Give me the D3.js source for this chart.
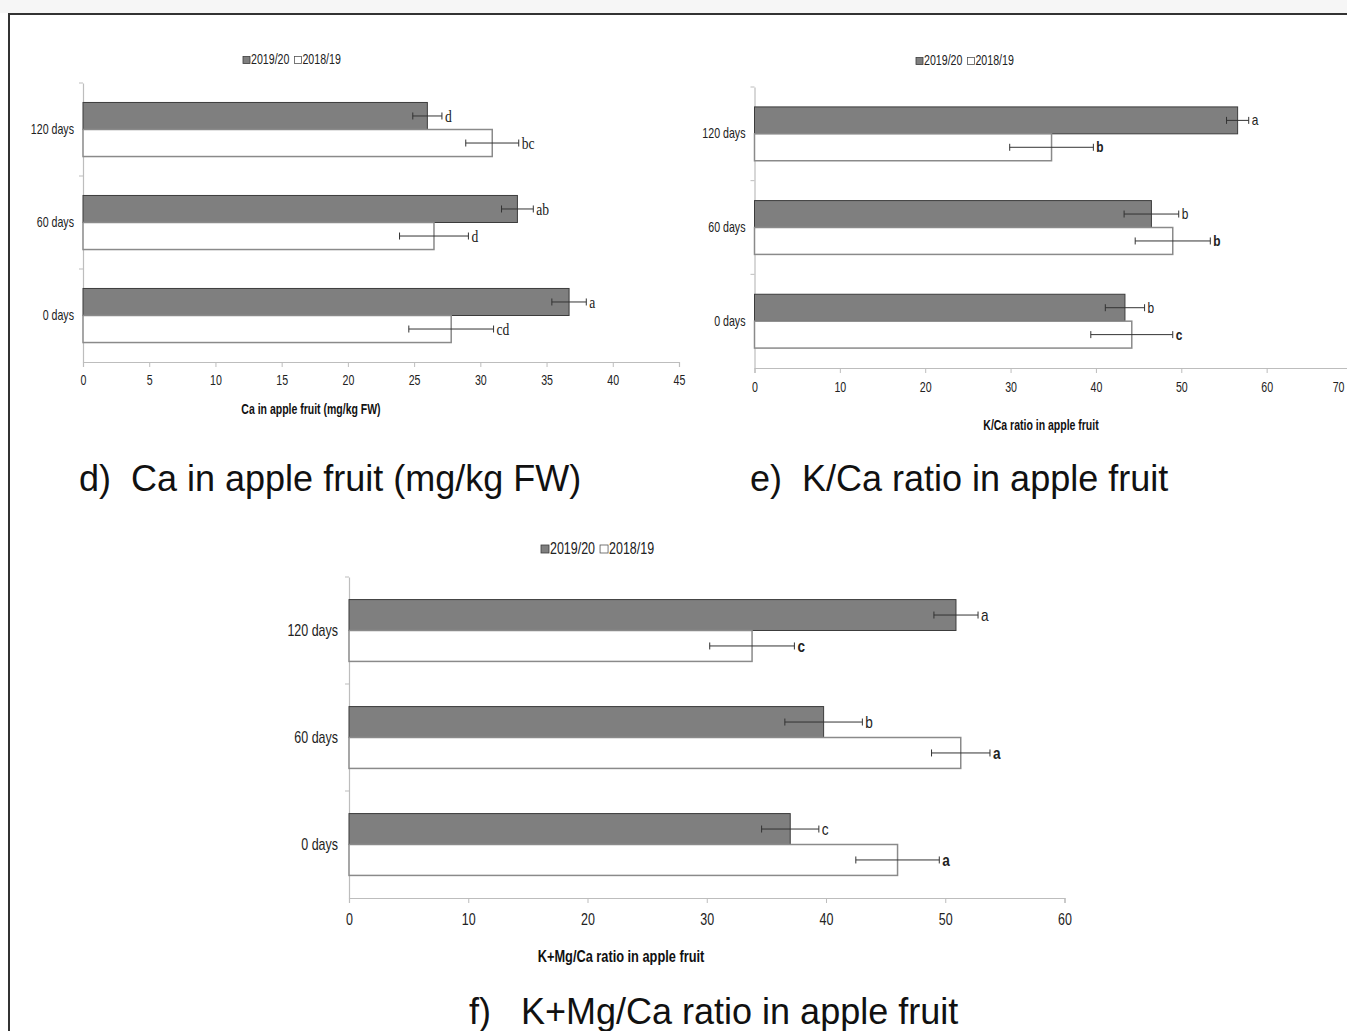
<!DOCTYPE html>
<html>
<head>
<meta charset="utf-8">
<script src="https://cdn.jsdelivr.net/npm/d3@7"></script>
<style>
  html, body { margin: 0; padding: 0; background: #fff; }
  svg { display: block; }
</style>
</head>
<body>
<svg id="chart" width="1347" height="1031"></svg>
<script>
// ---------- DATA ----------
const categories = ["120 days", "60 days", "0 days"];
const seriesLabels = ["2019/20", "2018/19"];

// d) Ca in apple fruit (mg/kg FW)
const caMean2019 = [26.0, 32.8, 36.7];
const caErr2019 = [1.1, 1.2, 1.3];
const caMean2018 = [30.9, 26.5, 27.8];
const caErr2018 = [2.0, 2.6, 3.2];
const caLetters2019 = ["d", "ab", "a"];
const caLetters2018 = ["bc", "d", "cd"];
const caTicks = [0, 5, 10, 15, 20, 25, 30, 35, 40, 45];

// e) K/Ca ratio in apple fruit
const kcaMean2019 = [56.6, 46.5, 43.4];
const kcaErr2019 = [1.3, 3.2, 2.3];
const kcaMean2018 = [34.8, 49.0, 44.2];
const kcaErr2018 = [4.9, 4.4, 4.8];
const kcaLetters2019 = ["a", "b", "b"];
const kcaLetters2018 = ["b", "b", "c"];
const kcaTicks = [0, 10, 20, 30, 40, 50, 60, 70];

// f) K+Mg/Ca ratio in apple fruit
const kmgMean2019 = [50.9, 39.8, 37.0];
const kmgErr2019 = [1.85, 3.25, 2.4];
const kmgMean2018 = [33.8, 51.3, 46.0];
const kmgErr2018 = [3.55, 2.45, 3.5];
const kmgLetters2019 = ["a", "b", "c"];
const kmgLetters2018 = ["c", "a", "a"];
const kmgTicks = [0, 10, 20, 30, 40, 50, 60];

const captions = ["d)  Ca in apple fruit (mg/kg FW)", "e)  K/Ca ratio in apple fruit", "f)   K+Mg/Ca ratio in apple fruit"];
const axisTitles = ["Ca in apple fruit (mg/kg FW)", "K/Ca ratio in apple fruit", "K+Mg/Ca ratio in apple fruit"];

// ---------- DRAW ----------
const svg = d3.select("#chart");
const SANS = '"Liberation Sans", Arial, sans-serif';
const SERIF = '"Liberation Serif", "Times New Roman", serif';

// horizontally condense text about its own x anchor (mimics a narrow face)
function squeeze(sel, s) {
  sel.each(function () {
    const t = d3.select(this);
    const x0 = +t.attr("x") || 0;
    t.attr("transform", `translate(${x0 * (1 - s)},0) scale(${s},1)`);
  });
}

// frame
svg.append("rect").attr("x", 0).attr("y", 0).attr("width", 1347).attr("height", 13).attr("fill", "#f6f6f6");
svg.append("line").attr("x1", 8).attr("x2", 1347).attr("y1", 14).attr("y2", 14).attr("stroke", "#333").attr("stroke-width", 2);
svg.append("line").attr("x1", 9).attr("x2", 9).attr("y1", 14).attr("y2", 1031).attr("stroke", "#333").attr("stroke-width", 2);

function rows(m19, e19, l19, m18, e18, l18) {
  return categories.map((c, i) => ({
    cat: c,
    series: [
      { key: seriesLabels[0], v: m19[i], e: e19[i], l: l19[i] },
      { key: seriesLabels[1], v: m18[i], e: e18[i], l: l18[i] }
    ]
  }));
}

function panel(cfg) {
  const g = svg.append("g");
  const x = d3.scaleLinear().domain([0, cfg.max]).range([cfg.left, cfg.right]);
  const y = d3.scaleBand().domain(categories).range([cfg.top, cfg.bottom]).padding(0);
  const inner = d3.scaleBand().domain(seriesLabels).range([0, y.bandwidth()]).paddingInner(0).paddingOuter(cfg.pad);

  // x axis
  const xa = g.append("g").attr("transform", `translate(0,${cfg.bottom})`)
    .call(d3.axisBottom(x).tickValues(cfg.ticks).tickSize(5).tickPadding(cfg.tickPad).tickFormat(d3.format("d")));
  xa.select(".domain").attr("stroke", "#bdbdbd").attr("stroke-width", 1.2);
  xa.selectAll(".tick line").attr("stroke", "#bdbdbd");
  const xt = xa.selectAll("text").attr("font-family", SANS).attr("font-size", cfg.fs).attr("fill", "#222");
  if (cfg.lastEnd) {
    // last tick sits on the picture's right edge: keep its label inside
    xt.filter(d => d === cfg.max).attr("text-anchor", "end").attr("x", -8);
  }
  squeeze(xt, cfg.sq);

  // y axis (labels centred on bands, ticks at band boundaries)
  const ya = g.append("g").attr("transform", `translate(${cfg.left},0)`)
    .call(d3.axisLeft(y).tickSize(0).tickPadding(cfg.ylabPad));
  ya.select(".domain").attr("stroke", "#bdbdbd").attr("stroke-width", 1.2);
  squeeze(ya.selectAll("text").attr("font-family", SANS).attr("font-size", cfg.fs).attr("fill", "#222"), cfg.sq);
  g.selectAll(".bt").data(categories).join("line")
    .attr("x1", cfg.left - 4).attr("x2", cfg.left)
    .attr("y1", d => y(d)).attr("y2", d => y(d))
    .attr("stroke", "#bdbdbd");

  // bars
  const grp = g.selectAll(".cat").data(cfg.data).join("g")
    .attr("transform", d => `translate(0,${y(d.cat)})`);
  grp.selectAll("rect").data(d => d.series).join("rect")
    .attr("x", x(0))
    .attr("y", d => inner(d.key))
    .attr("width", d => x(d.v) - x(0))
    .attr("height", inner.bandwidth())
    .attr("fill", (d, i) => i === 0 ? "#7f7f7f" : "#ffffff")
    .attr("stroke", (d, i) => i === 0 ? "#3c3c3c" : "#8a8a8a")
    .attr("stroke-width", (d, i) => i === 0 ? 1 : 1.5);

  // error bars + letters
  const eb = grp.selectAll(".eb").data(d => d.series).join("g")
    .attr("transform", d => `translate(0,${inner(d.key) + inner.bandwidth() / 2})`);
  eb.append("line").attr("x1", d => x(d.v - d.e)).attr("x2", d => x(d.v + d.e))
    .attr("y1", 0).attr("y2", 0).attr("stroke", "#333").attr("stroke-width", 1);
  eb.append("line").attr("x1", d => x(d.v - d.e)).attr("x2", d => x(d.v - d.e))
    .attr("y1", -3.5).attr("y2", 3.5).attr("stroke", "#333").attr("stroke-width", 1);
  eb.append("line").attr("x1", d => x(d.v + d.e)).attr("x2", d => x(d.v + d.e))
    .attr("y1", -3.5).attr("y2", 3.5).attr("stroke", "#333").attr("stroke-width", 1);
  const lt = eb.append("text").attr("x", d => x(d.v + d.e) + 3).attr("y", 0).attr("dy", "0.35em")
    .attr("font-family", cfg.letterFont).attr("font-size", cfg.letterFs)
    .attr("font-weight", (d, i) => (cfg.boldWhite && i === 1) ? "bold" : "normal")
    .attr("fill", "#222").text(d => d.l);
  squeeze(lt, cfg.letterSq);

  // legend
  const lg = g.append("g").attr("transform", `translate(${cfg.legX},${cfg.legY})`);
  const sq = cfg.legSq;
  let cx = 0;
  seriesLabels.forEach((s, i) => {
    lg.append("rect").attr("x", cx).attr("y", -sq / 2 + 1).attr("width", sq).attr("height", sq)
      .attr("fill", i === 0 ? "#7f7f7f" : "#fff").attr("stroke", i === 0 ? "#3c3c3c" : "#555").attr("stroke-width", 0.8);
    cx += sq + 1;
    const t = lg.append("text").attr("x", cx).attr("y", 0).attr("dy", "0.35em")
      .attr("font-family", SANS).attr("font-size", cfg.fs).attr("fill", "#222").text(s);
    squeeze(t, cfg.sq);
    cx += t.node().getComputedTextLength() * cfg.sq + 5;
  });

  // axis title
  const tt = g.append("text").attr("x", cfg.titleX).attr("y", cfg.titleY).attr("dy", "0.35em").attr("text-anchor", "middle")
    .attr("font-family", SANS).attr("font-size", cfg.fs).attr("font-weight", "bold").attr("fill", "#111")
    .text(cfg.title);
  squeeze(tt, cfg.titleSq);

  // caption
  svg.append("text").attr("x", cfg.capX).attr("y", cfg.capY)
    .attr("font-family", SANS).attr("font-size", 36).attr("fill", "#111")
    .style("white-space", "pre")
    .text(cfg.caption);
}

panel({
  data: rows(caMean2019, caErr2019, caLetters2019, caMean2018, caErr2018, caLetters2018),
  max: 45, ticks: caTicks, left: 83, right: 679, top: 83, bottom: 362, pad: 0.72,
  fs: 14, sq: 0.76, titleSq: 0.75, tickPad: 8, ylabPad: 9, lastEnd: false,
  letterFont: SERIF, letterFs: 16, letterSq: 0.85, boldWhite: false,
  legX: 243, legY: 59, legSq: 7,
  title: axisTitles[0], titleX: 311, titleY: 409,
  caption: captions[0], capX: 79, capY: 491
});

panel({
  data: rows(kcaMean2019, kcaErr2019, kcaLetters2019, kcaMean2018, kcaErr2018, kcaLetters2018),
  max: 70, ticks: kcaTicks, left: 754.5, right: 1352, top: 87, bottom: 368, pad: 0.74,
  fs: 14, sq: 0.76, titleSq: 0.75, tickPad: 9, ylabPad: 9, lastEnd: true,
  letterFont: SANS, letterFs: 14, letterSq: 0.85, boldWhite: true,
  legX: 916, legY: 60, legSq: 7,
  title: axisTitles[1], titleX: 1041, titleY: 425,
  caption: captions[1], capX: 750, capY: 491
});

panel({
  data: rows(kmgMean2019, kmgErr2019, kmgLetters2019, kmgMean2018, kmgErr2018, kmgLetters2018),
  max: 60, ticks: kmgTicks, left: 349, right: 1064.5, top: 577, bottom: 898, pad: 0.73,
  fs: 16, sq: 0.78, titleSq: 0.8, tickPad: 11, ylabPad: 11, lastEnd: false,
  letterFont: SANS, letterFs: 16, letterSq: 0.85, boldWhite: true,
  legX: 541, legY: 548, legSq: 8,
  title: axisTitles[2], titleX: 621, titleY: 956,
  caption: captions[2], capX: 469, capY: 1024
});
</script>
</body>
</html>
